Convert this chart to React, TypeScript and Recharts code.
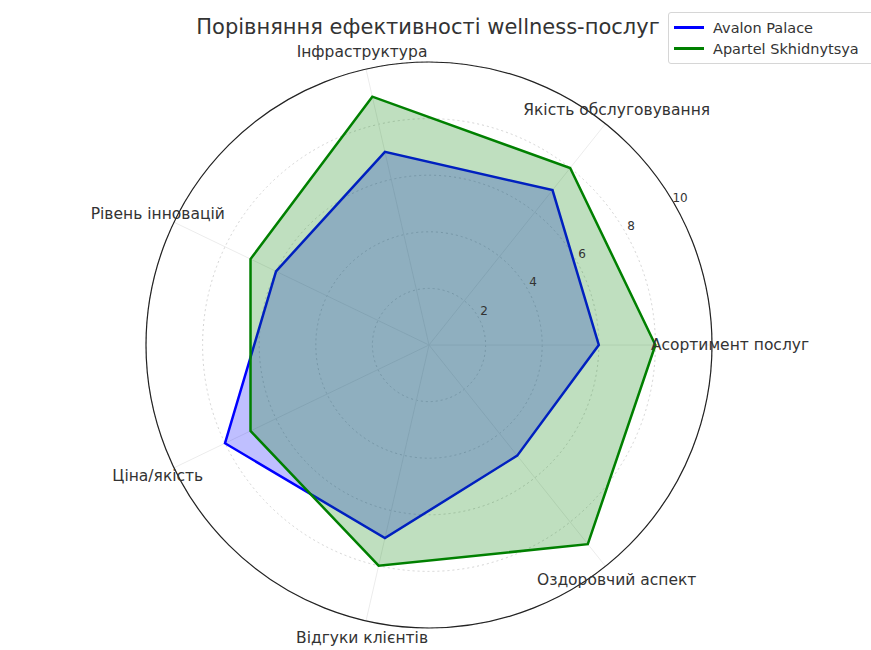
import React from 'react';
import {
  RadarChart,
  Radar,
  PolarGrid,
  PolarAngleAxis,
  PolarRadiusAxis,
  Legend,
} from 'recharts';

// categories as matplotlib lays them out: start at 0°, go counter-clockwise
const categories = [
  'Асортимент послуг',
  'Якість обслуговування',
  'Інфраструктура',
  'Рівень інновацій',
  'Ціна/якість',
  'Відгуки клієнтів',
  'Оздоровчий аспект',
];
const avalonValues = [6, 7, 7, 6, 8, 7, 5];
const apartelValues = [8, 8, 9, 7, 7, 8, 9];
const seriesNames = ['Avalon Palace', 'Apartel Skhidnytsya'];
const radiusTicks = [0, 2, 4, 6, 8, 10];

// recharts goes clockwise, so feed it the categories in reverse (keeping the first one at 0°)
const order = [0, ...categories.map((_, i) => i).slice(1).reverse()];
const data = order.map((i) => ({
  category: categories[i],
  avalon: avalonValues[i],
  apartel: apartelValues[i],
}));

const FONT = '"DejaVu Sans", sans-serif';
const W = 871;
const H = 650;
const CX = 429;
const CY = 345;
const OUTER = 283;

const AngleTick = ({ x, y, payload }: any) => (
  <text
    x={x}
    y={y}
    textAnchor="middle"
    dominantBaseline="central"
    fontSize={15.5}
    fontFamily={FONT}
    fill="#333"
  >
    {payload.value}
  </text>
);

const RadiusTick = ({ x, y, payload }: any) => {
  if (payload.value === 0) return null;
  return (
    <text
      x={x + 6}
      y={y - 6}
      textAnchor="middle"
      dominantBaseline="central"
      fontSize={12}
      fontFamily={FONT}
      fill="#333"
    >
      {payload.value}
    </text>
  );
};

const LegendBox = ({ payload }: any) => {
  const items = [...(payload || [])].sort(
    (a: any, b: any) => seriesNames.indexOf(a.value) - seriesNames.indexOf(b.value)
  );
  return (
    <div
      style={{
        width: 215,
        border: '1px solid #d6d6d6',
        borderRadius: 3,
        background: 'rgba(255,255,255,0.8)',
        padding: '4px 0 4px 5px',
        fontFamily: FONT,
        fontSize: 14.5,
        color: '#333',
        boxSizing: 'border-box',
      }}
    >
      {items.map((entry: any, i: number) => (
        <div key={i} style={{ display: 'flex', alignItems: 'center', height: 21 }}>
          <div style={{ width: 30, height: 3, background: entry.color, marginRight: 9 }} />
          <span>{entry.value}</span>
        </div>
      ))}
    </div>
  );
};

export default function App() {
  return (
    <div
      style={{
        position: 'absolute',
        left: 0,
        top: 0,
        width: W,
        height: H,
        overflow: 'hidden',
        background: '#fff',
      }}
    >
      <div
        style={{
          position: 'absolute',
          left: 0,
          width: 856,
          top: 15,
          textAlign: 'center',
          fontFamily: FONT,
          fontSize: 21,
          color: '#333',
          zIndex: 1,
        }}
      >
        Порівняння ефективності wellness-послуг
      </div>
      <RadarChart
        width={W}
        height={H}
        data={data}
        cx={CX}
        cy={CY}
        outerRadius={OUTER}
        startAngle={0}
        endAngle={-360}
        margin={{ top: 0, right: 0, bottom: 0, left: 0 }}
      >
        <PolarGrid
          gridType="circle"
          radialLines={false}
          stroke="#d4d4d4"
          strokeDasharray="2 3"
        />
        <PolarGrid gridType="circle" polarRadius={[]} stroke="#ececec" />
        <PolarAngleAxis
          dataKey="category"
          axisLineType="circle"
          axisLine={{ stroke: '#222', strokeWidth: 1.2 }}
          tickLine={false}
          tickSize={18}
          tick={<AngleTick />}
        />
        <PolarRadiusAxis
          domain={[0, 10]}
          ticks={radiusTicks}
          tickCount={6}
          angle={30}
          axisLine={false}
          tickLine={false}
          tick={<RadiusTick />}
        />
        <Radar
          name={seriesNames[0]}
          dataKey="avalon"
          stroke="#0000ff"
          strokeWidth={2.5}
          fill="#0000ff"
          fillOpacity={0.25}
          isAnimationActive={false}
        />
        <Radar
          name={seriesNames[1]}
          dataKey="apartel"
          stroke="#008000"
          strokeWidth={2.5}
          fill="#008000"
          fillOpacity={0.25}
          isAnimationActive={false}
        />
        <Legend
          content={<LegendBox />}
          wrapperStyle={{ left: 668, top: 12, width: 215 }}
        />
      </RadarChart>
    </div>
  );
}
